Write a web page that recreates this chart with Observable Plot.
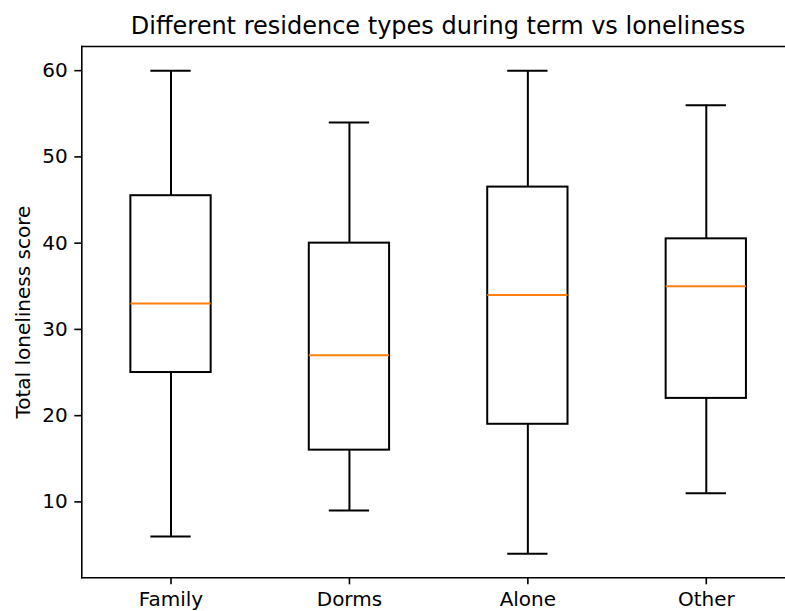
<!DOCTYPE html>
<html>
<head>
<meta charset="utf-8">
<script src="https://cdn.jsdelivr.net/npm/d3@7"></script>
<script src="https://cdn.jsdelivr.net/npm/@observablehq/plot@0.6"></script>
<style>
  html, body { margin: 0; padding: 0; background: #fff; overflow: hidden; }
  #wrap { position: relative; width: 785px; height: 611px; overflow: hidden; }
  #title { position: absolute; left: 0; top: 13.7px; width: 876px; text-align: center;
           font-family: "DejaVu Sans", sans-serif; font-size: 24px; line-height: 24px; color: #000; white-space: nowrap; }
  #chart { position: absolute; left: 0; top: 0; width: 785px; height: 611px; overflow: hidden; }
</style>
</head>
<body>
<div id="wrap">
  <div id="chart"></div>
  <div id="title">Different residence types during term vs loneliness</div>
</div>
<script>
const categories = ["Family", "Dorms", "Alone", "Other"];
const whiskerLow = [6, 9, 4, 11];
const q1 = [25, 16, 19, 22];
const medians = [33, 27, 34, 35];
const q3 = [45.5, 40, 46.5, 40.5];
const whiskerHigh = [60, 54, 60, 56];
const yTicks = [10, 20, 30, 40, 50, 60];

const data = categories.map((c, i) => ({
  cat: c, lo: whiskerLow[i], q1: q1[i], med: medians[i], q3: q3[i], hi: whiskerHigh[i]
}));

const chart = Plot.plot({
  width: 785,
  height: 611,
  marginTop: 46,
  marginBottom: 33.7,
  marginLeft: 81.3,
  marginRight: 0,
  style: { fontFamily: "DejaVu Sans, sans-serif", fontSize: "20px", color: "#000", background: "#fff", overflow: "hidden" },
  x: { type: "band", domain: categories, range: [81.3, 795], paddingInner: 0.55, paddingOuter: 0.275, round: false, label: null },
  y: { domain: [1.2, 62.8], ticks: yTicks, label: "Total loneliness score" },
  marks: [
    Plot.axisY({ ticks: yTicks, tickSize: 7, tickPadding: 7, strokeWidth: 1.6, fontSize: 20,
                 label: "Total loneliness score", labelAnchor: "center", labelArrow: "none", labelOffset: 66 }),
    Plot.axisX({ tickSize: 7, tickPadding: 7, strokeWidth: 1.6, fontSize: 20, label: null }),
    Plot.barY(data, { x: "cat", y1: "q1", y2: "q3", fill: "#fff", stroke: "#000", strokeWidth: 2 }),
    Plot.tickY(data, { x: "cat", y: "med", stroke: "#ff7f0e", strokeWidth: 2 }),
    Plot.ruleX(data, { x: "cat", y1: "lo", y2: "q1", stroke: "#000", strokeWidth: 2 }),
    Plot.ruleX(data, { x: "cat", y1: "q3", y2: "hi", stroke: "#000", strokeWidth: 2 }),
    Plot.tickY(data, { x: "cat", y: "lo", stroke: "#000", strokeWidth: 2, insetLeft: 20, insetRight: 20 }),
    Plot.tickY(data, { x: "cat", y: "hi", stroke: "#000", strokeWidth: 2, insetLeft: 20, insetRight: 20 }),
    Plot.frame({ anchor: "left", stroke: "#000", strokeWidth: 1.6 }),
    Plot.frame({ anchor: "top", stroke: "#000", strokeWidth: 1.6 }),
    Plot.frame({ anchor: "bottom", stroke: "#000", strokeWidth: 1.6 })
  ]
});
document.getElementById("chart").appendChild(chart);
</script>
</body>
</html>
